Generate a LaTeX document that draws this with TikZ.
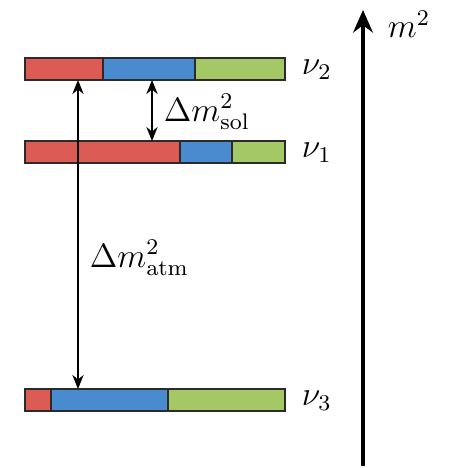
\documentclass[tikz,border=0pt]{standalone}
\usetikzlibrary{positioning,arrows.meta}
\definecolor{nured}{HTML}{DC5C55}
\definecolor{nublue}{HTML}{4A8BD0}
\definecolor{nugreen}{HTML}{A4C866}
\definecolor{nuedge}{HTML}{2B2B2B}

\begin{document}
\begin{tikzpicture}[x=0.0125cm,y=-0.0125cm, font=\large,
  seg/.style={draw=nuedge, line width=0.6pt},
  gap/.style={{Stealth[length=5pt,width=4pt]}-{Stealth[length=5pt,width=4pt]}, line width=0.6pt},
  axis/.style={-{Stealth[length=8pt,width=7pt]}, line width=1.3pt}]
\useasboundingbox (0,0) rectangle (452,468);
% nu_2 bar
\draw[seg, fill=nured] (25,58) rectangle (103,80);
\draw[seg, fill=nublue] (103,58) rectangle (195,80);
\draw[seg, fill=nugreen] (195,58) rectangle (285,80);
\node[anchor=west] (nu2) at (292,70) {$\nu_2$};
% nu_1 bar
\draw[seg, fill=nured] (25,141) rectangle (180,163);
\draw[seg, fill=nublue] (180,141) rectangle (232,163);
\draw[seg, fill=nugreen] (232,141) rectangle (285,163);
\node[anchor=west] (nu1) at (292,153) {$\nu_1$};
% nu_3 bar
\draw[seg, fill=nured] (25,389) rectangle (51,411);
\draw[seg, fill=nublue] (51,389) rectangle (168,411);
\draw[seg, fill=nugreen] (168,389) rectangle (285,411);
\node[anchor=west] (nu3) at (292,401) {$\nu_3$};
% splittings
\coordinate (sol2) at (152,80);
\coordinate (sol1) at (152,141);
\coordinate (atm2) at (78,80);
\coordinate (atm3) at (78,389);
\draw[gap] (sol2) -- (sol1);
\draw[gap] (atm2) -- (atm3);
\node[anchor=west] (dsol) at (154,112) {$\Delta m^2_{\mathrm{sol}}$};
\node[anchor=west] (datm) at (80,258) {$\Delta m^2_{\mathrm{atm}}$};
% mass axis
\coordinate (ax0) at (363,466);
\coordinate (ax1) at (363,10);
\draw[axis] (ax0) -- (ax1);
\node[anchor=west] (msq) at (378,24) {$m^2$};
\end{tikzpicture}
\end{document}
